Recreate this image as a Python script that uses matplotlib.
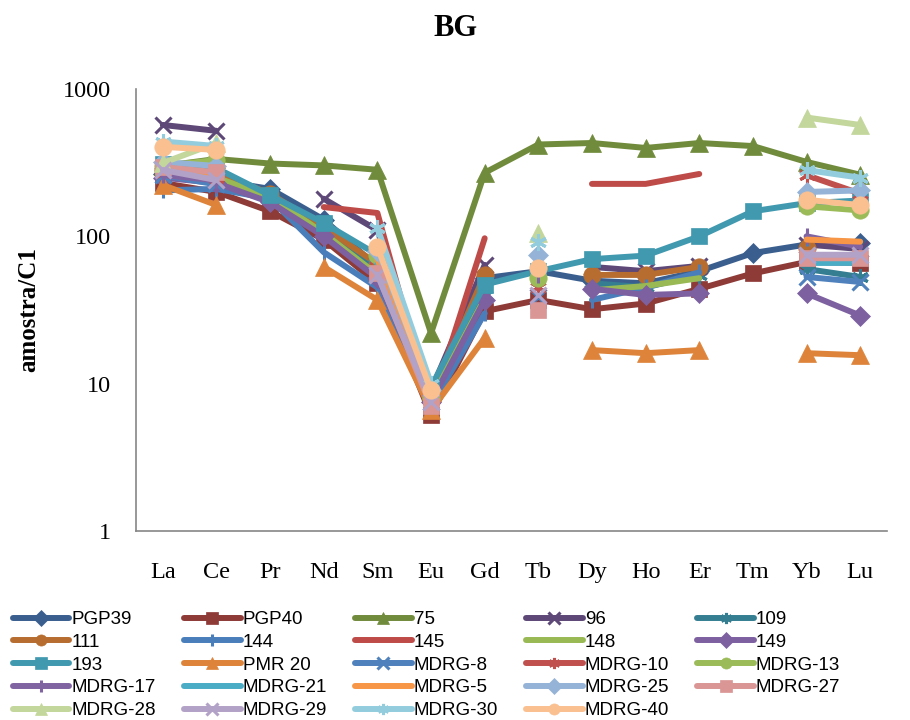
import numpy as np
import matplotlib
matplotlib.use("Agg")
import matplotlib.pyplot as plt

nan = np.nan

elements = ["La", "Ce", "Pr", "Nd", "Sm", "Eu", "Gd", "Tb", "Dy", "Ho", "Er", "Tm", "Yb", "Lu"]

# Chondrite-normalised REE values per sample (gaps = not analysed)
PGP39 = [265, 240, 210, 130, 62, 8.5, 52, 58, 50, 48, 58, 77, 88, 90]
PGP40 = [230, 200, 148, 95, 48, 6.1, 31, 37, 32, 35, 44, 56, 67, 66]
s75 = [300, 335, 312, 303, 283, 22, 270, 420, 430, 398, 430, 410, 320, 262]
s96 = [570, 520, nan, 180, 110, 9, 64, nan, 62, 58, 63, nan, 88, 82]
s109 = [300, 280, 190, 110, 60, 8, 40, nan, 48, 45, 55, nan, 60, 53]
s111 = [280, 270, 195, 115, 65, 8, 55, nan, 54.7, 54.7, 62, nan, 83, nan]
s144 = [205, 210, 180, 78, 45, 7, 30, nan, 37, 45, 57, nan, 98, nan]
s145 = [nan, nan, nan, 158, 144, 7, 97, nan, 227, 227, 265, nan, nan, nan]
s148 = [290, 250, 185, 105, 55, 8, 38, nan, 43, 46, 52, nan, nan, nan]
s149 = [250, 230, 170, 100, 52, 7.5, 37, nan, 44, 40, 41, nan, 41, 29]
s193 = [310, 290, 190, 123, 75, 9.5, 47, 58, 70, 74, 100, 148, 168, 175]
PMR20 = [223, 163, nan, 62, 37, 6.6, 20.4, nan, 16.9, 16.1, 16.9, nan, 16.1, 15.6]
MDRG8 = [260, 225, nan, nan, 55, 7.5, nan, 39, nan, nan, nan, nan, 53, 49]
MDRG10 = [270, 250, nan, nan, 70, 8, nan, 45, nan, nan, nan, nan, 260, 195]
MDRG13 = [300, 330, nan, nan, 75, 8, nan, 52, nan, nan, nan, nan, 160, 150]
MDRG17 = [260, 240, nan, nan, 60, 8, nan, 55, nan, nan, nan, nan, 100, 85]
MDRG21 = [300, 280, nan, nan, 65, 8.5, nan, 48, nan, nan, nan, nan, 66, 66]
MDRG5 = [290, 265, nan, nan, 70, 8, nan, 50, nan, nan, nan, nan, 95, 92]
MDRG25 = [320, 300, nan, nan, 80, 9, nan, 75, nan, nan, nan, nan, 200, 205]
MDRG27 = [295, 272, nan, nan, 56, 7, nan, 31.6, nan, nan, nan, nan, 71, 71]
MDRG28 = [315, 430, nan, nan, nan, nan, nan, 105, nan, nan, nan, nan, 640, 570]
MDRG29 = [282, 241, nan, nan, 55, 7.5, nan, 40, nan, nan, nan, nan, 75, 75]
MDRG30 = [440, 410, nan, nan, 114, 10, nan, 91, nan, nan, nan, nan, 282, 250]
MDRG40 = [405, 386, nan, nan, 85, 9, nan, 61, nan, nan, nan, nan, 177, 163]

labels = ["PGP39", "PGP40", "75", "96", "109", "111", "144", "145", "148", "149",
          "193", "PMR 20", "MDRG-8", "MDRG-10", "MDRG-13", "MDRG-17", "MDRG-21",
          "MDRG-5", "MDRG-25", "MDRG-27", "MDRG-28", "MDRG-29", "MDRG-30", "MDRG-40"]
series = [PGP39, PGP40, s75, s96, s109, s111, s144, s145, s148, s149, s193, PMR20,
          MDRG8, MDRG10, MDRG13, MDRG17, MDRG21, MDRG5, MDRG25, MDRG27, MDRG28,
          MDRG29, MDRG30, MDRG40]

colors = ["#3A5F8F", "#8E3A37", "#718B3C", "#5D4878", "#357E92", "#B76D30",
          "#4A7EBB", "#BE4B48", "#98B954", "#7D60A0", "#4199B0", "#DE843A",
          "#4F81BD", "#C0504D", "#9BBB59", "#8064A2", "#4BACC6", "#F79646",
          "#95B3D7", "#D99694", "#C3D69B", "#B3A2C7", "#93CDDD", "#FAC090"]
markers = ["D", "s", "^", "x", (6, 2, 0), "o", "|", None, None, "D", "s", "^",
           "x", (6, 2, 0), "o", "|", None, None, "D", "s", "^", "x", (6, 2, 0), "o"]

plt.rcParams["font.family"] = ["Liberation Serif", "DejaVu Serif"]

fig = plt.figure(figsize=(9.1, 7.2), dpi=100)
ax = fig.add_axes([136 / 910, 1 - 531 / 720, (887 - 136) / 910, (531 - 89) / 720])

x = np.arange(len(elements))
handles = []
for vals, lab, col, mk in zip(series, labels, colors, markers):
    y = np.array(vals, dtype=float)
    kw = dict(color=col, lw=4.3, solid_capstyle="round", solid_joinstyle="round",
              label=lab)
    if mk is None:
        h, = ax.plot(x, y, **kw)
    elif mk in ("x", (6, 2, 0), "|"):
        h, = ax.plot(x, y, marker=mk, ms=12, mew=2.2, mec=col, **kw)
    else:
        size = {"D": 10.5, "s": 11.5, "^": 12.5, "o": 12.5}[mk]
        h, = ax.plot(x, y, marker=mk, ms=size, mfc=col, mec=col, mew=0.5, **kw)
    handles.append(h)

ax.set_yscale("log")
ax.set_ylim(1, 1000)
ax.set_xlim(-0.5, len(elements) - 0.5)
ax.set_xticks(x)
ax.set_xticklabels(elements)
ax.set_yticks([1, 10, 100, 1000])
ax.set_yticklabels(["1", "10", "100", "1000"])
ax.yaxis.set_minor_locator(matplotlib.ticker.NullLocator())
ax.tick_params(axis="both", length=0, labelsize=17.5, colors="black")
ax.tick_params(axis="x", pad=22)
ax.tick_params(axis="y", pad=18)
for side in ("top", "right"):
    ax.spines[side].set_visible(False)
for side in ("left", "bottom"):
    ax.spines[side].set_color("#868686")
    ax.spines[side].set_linewidth(1.2)

ax.set_ylabel("amostra/C1", fontsize=18, fontweight="bold", labelpad=16)
fig.text(0.5, 1 - 28 / 720, "BG", ha="center", va="center", fontsize=22,
         fontweight="bold")

# Legend filled row by row across five columns
ncol = 5
order = [r * ncol + c for c in range(ncol) for r in range(5) if r * ncol + c < len(labels)]
leg = fig.legend([handles[i] for i in order], [labels[i] for i in order],
                 ncol=ncol, loc="upper left",
                 bbox_to_anchor=(0.0, 1 - 598 / 720), frameon=False,
                 prop={"family": ["Liberation Sans", "DejaVu Sans"], "size": 13.5},
                 handlelength=3.0, handletextpad=0.12, labelspacing=0.3,
                 columnspacing=1.5, borderaxespad=0.3)
for h in leg.legend_handles:
    h.set_markersize(8)

fig.savefig("out.png", dpi=100)
